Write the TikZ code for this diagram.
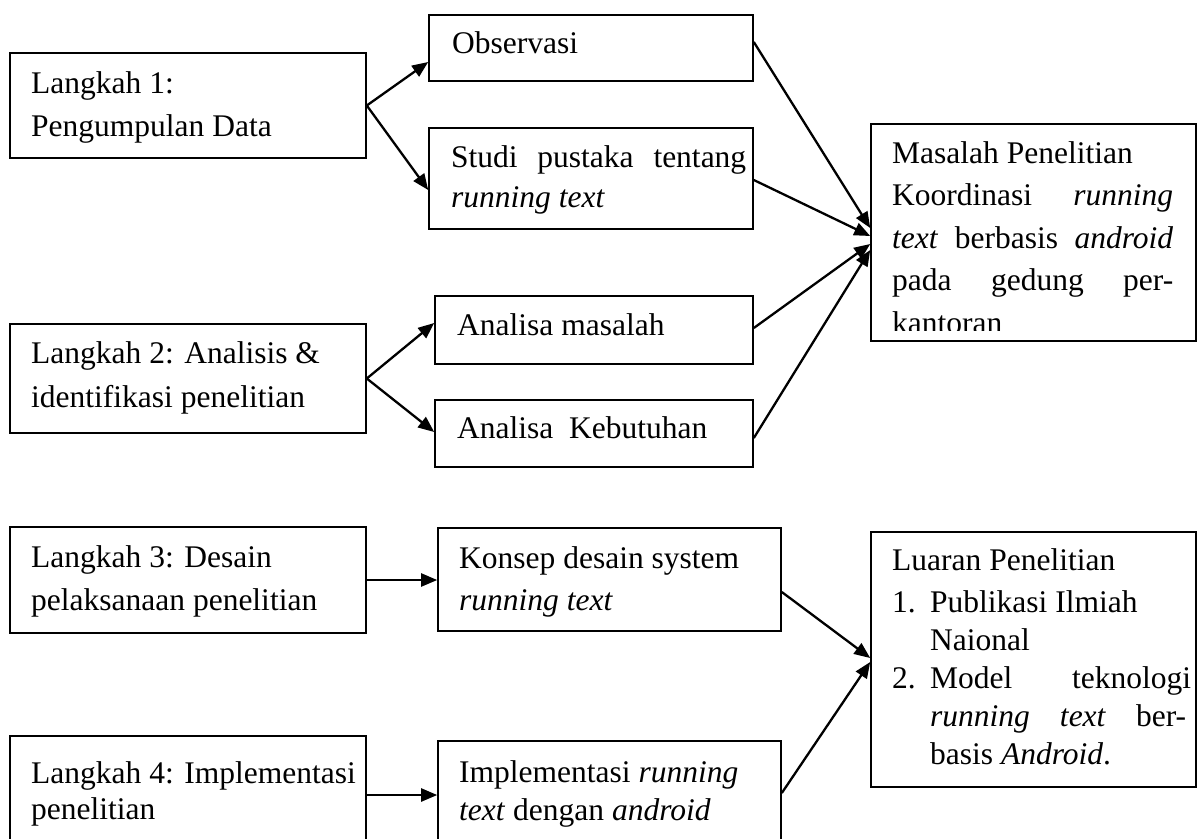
\documentclass[tikz,border=0pt]{standalone}
\usepackage{fontspec}
\setmainfont{Liberation Serif}
\usetikzlibrary{arrows.meta,fit,calc}
\newcommand\rline[1]{\hbox{#1}}
\newcommand\jline[2]{\hbox{\makebox[#1][s]{#2}}}
\begin{document}
\begin{tikzpicture}[x=1pt,y=-1pt,
  box/.style={draw, line width=1.6pt, inner sep=0pt},
  txt/.style={anchor=base west, inner sep=0pt},
  arr/.style={line width=2.3pt, -{Triangle[length=16pt,width=13pt]}},
  font=\fontsize{31.5}{43}\selectfont]
\clip (0,0) rectangle (1198,838);
% boxes
\node[box, fit={(10,53) (366,158)}] (l1) {};
\node[box, fit={(429,15) (753,81)}] (obs) {};
\node[box, fit={(429,128) (753,229)}] (studi) {};
\node[box, fit={(435,296) (753,364)}] (am) {};
\node[box, fit={(435,400) (753,467)}] (ak) {};
\node[box, fit={(10,324) (366,433)}] (l2) {};
\node[box, fit={(871,124) (1196,341)}] (mas) {};
\node[box, fit={(10,527) (366,633)}] (l3) {};
\node[box, fit={(438,528) (781,631)}] (kon) {};
\node[box, fit={(10,736) (366,854)}] (l4) {};
\node[box, fit={(438,741) (781,849)}] (imp) {};
\node[box, fit={(871,532) (1196,787)}] (lua) {};
% texts
\node[txt] (t1) at (31,93) {\vtop{\baselineskip=43pt\rline{Langkah 1:}\rline{Pengumpulan Data}}};
\node[txt] (tobs) at (452,53) {Observasi};
\node[txt] (tstudi) at (451,167) {\vtop{\baselineskip=40pt\jline{295pt}{Studi pustaka tentang}\rline{\itshape running text}}};
\node[txt] (tam) at (457,335) {Analisa masalah};
\node[txt] (tak) at (457,438) {Analisa\ \ Kebutuhan};
\node[txt] (t2) at (31,363) {\vtop{\baselineskip=44pt\rline{Langkah 2: Analisis \&}\rline{identifikasi penelitian}}};
\begin{scope}
\clip (mas.north west) rectangle ([yshift=11pt]mas.south east);
\node[txt] (tmas) at (892,163) {\vtop{\baselineskip=42.5pt\rline{Masalah Penelitian}\jline{281pt}{Koordinasi \textit{running}}\jline{281pt}{\textit{text} berbasis \textit{android}}\jline{281pt}{pada gedung per-}\rline{kantoran}}};
\end{scope}
\node[txt] (t3) at (31,567) {\vtop{\baselineskip=43pt\rline{Langkah 3: Desain}\rline{pelaksanaan penelitian}}};
\node[txt] (tkon) at (459,568) {\vtop{\baselineskip=42pt\rline{Konsep desain system}\rline{\itshape running text}}};
\node[txt] (t4) at (31,783) {\vtop{\baselineskip=36pt\rline{Langkah 4: Implementasi}\rline{penelitian}}};
\node[txt] (timp) at (459,782) {\vtop{\baselineskip=38pt\rline{Implementasi \textit{running}}\rline{\textit{text} dengan \textit{android}}}};
\node[txt] (tlua) at (892,570) {\vtop{\baselineskip=38pt\rline{Luaran Penelitian}\vskip4pt
  \rline{\makebox[38pt][l]{1.}Publikasi Ilmiah}
  \rline{\hspace*{38pt}Naional}
  \rline{\makebox[38pt][l]{2.}\makebox[261pt][s]{Model teknologi}}
  \rline{\hspace*{38pt}\makebox[256pt][s]{\textit{running} \textit{text} ber-}}
  \rline{\hspace*{38pt}basis \textit{Android}.}}};
% connectors
\draw[arr] (l1.east) -- ([yshift=-14pt]obs.west);
\draw[arr] (l1.east) -- ([yshift=-11.5pt]studi.west);
\draw[arr] (l2.east) -- ([yshift=7pt]am.west);
\draw[arr] (l2.east) -- ([yshift=1.5pt]ak.west);
\draw[arr] ([yshift=6pt]obs.east) -- ([yshift=4.5pt]mas.west);
\draw[arr] ([yshift=-1.5pt]studi.east) -- ([yshift=-3.5pt]mas.west);
\draw[arr] ([yshift=2pt]am.east) -- ([yshift=-11.5pt]mas.west);
\draw[arr] ([yshift=-4.5pt]ak.east) -- ([yshift=-17.5pt]mas.west);
\draw[arr] (l3.east) -- (l3.east -| kon.west);
\draw[arr] (l4.east) -- (l4.east -| imp.west);
\draw[arr] ([yshift=-12.5pt]kon.east) -- ([yshift=1.5pt]lua.west);
\draw[arr] ([yshift=2pt]imp.east) -- ([yshift=-2.5pt]lua.west);
\end{tikzpicture}
\end{document}
